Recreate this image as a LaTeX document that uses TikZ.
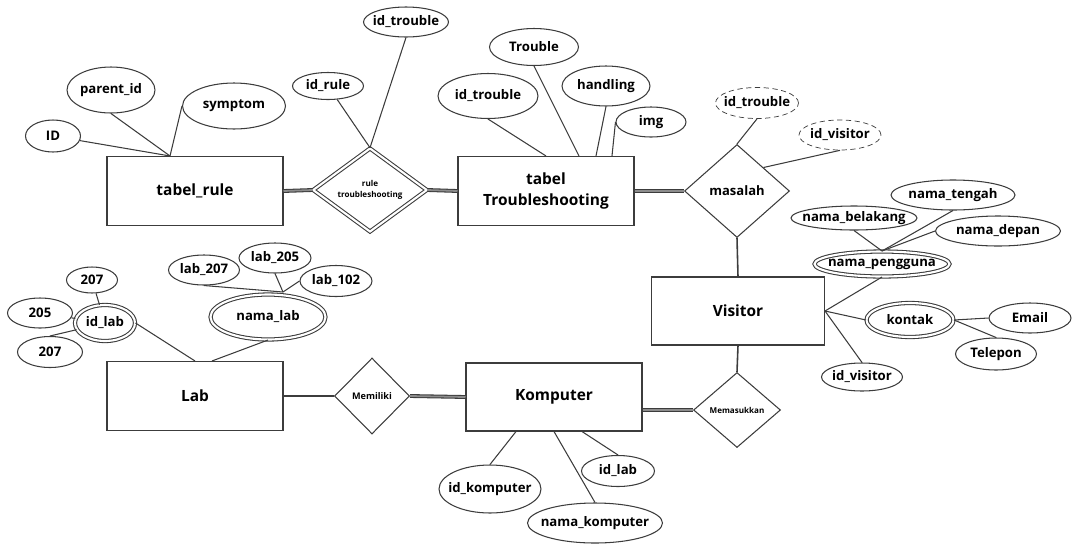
\documentclass[tikz,border=0pt]{standalone}
\usepackage{fontspec}
\setmainfont{Open Sans}
\usetikzlibrary{shapes.geometric,calc}
\definecolor{erline}{RGB}{60,60,60}

\begin{document}
\begin{tikzpicture}[x=0.02cm,y=-0.02cm,
    line width=0.6pt, draw=erline,
    entitas/.style={rectangle, draw=erline, minimum width=3.52cm, minimum height=1.38cm,
      font=\bfseries\fontsize{8.8}{12}\selectfont, align=center},
    atribut/.style 2 args={ellipse, draw=erline, inner xsep=-1em, inner ysep=0pt,
      minimum width=#1, minimum height=#2, font=\bfseries\fontsize{7.5}{9}\selectfont},
    relasi/.style={diamond, draw=erline, inner sep=0pt, align=center},
    ganda/.style={double=white, double distance=1.2pt},
    gandagaris/.style={double=black!45, double distance=1pt},
    putus/.style={densely dashed, line width=0.4pt}]
  \useasboundingbox (0,0) rectangle (1075,545);

  % entitas
  \node[entitas] (rule) at (195,191) {tabel\_rule};
  \node[entitas] (trouble) at (546,191) {tabel\\Troubleshooting};
  \node[entitas, minimum width=3.46cm, minimum height=1.36cm] (visitor) at (738,311) {Visitor};
  \node[entitas] (lab) at (195,396) {Lab};
  \node[entitas, minimum height=1.36cm] (komputer) at (554,397) {Komputer};

  % relasi
  \node[relasi, ganda, minimum width=2.28cm, minimum height=1.62cm,
    font=\bfseries\fontsize{4.6}{6}\selectfont] (ruletr) at (370,190) {rule\\troubleshooting};
  \node[relasi, minimum width=2.1cm, minimum height=1.86cm,
    font=\bfseries\fontsize{7.4}{9}\selectfont] (masalah) at (737,191) {masalah};
  \node[relasi, minimum width=1.5cm, minimum height=1.52cm,
    font=\bfseries\fontsize{5.2}{6}\selectfont] (memiliki) at (372,396) {Memiliki};
  \node[relasi, minimum width=1.74cm, minimum height=1.5cm,
    font=\bfseries\fontsize{4.6}{6}\selectfont] (memasukkan) at (737,410) {Memasukkan};

  % atribut tabel_rule
  \node[atribut={1.1cm}{0.64cm}] (id) at (53,136) {ID};
  \node[atribut={1.76cm}{0.92cm}] (parentid) at (111,90) {parent\_id};
  \node[atribut={2.06cm}{0.92cm}] (symptom) at (234,106) {symptom};
  \node[atribut={1.42cm}{0.54cm}] (idrule) at (328,86) {id\_rule};
  \node[atribut={1.7cm}{0.6cm}] (idtroubleA) at (406,22) {id\_trouble};

  % atribut tabel Troubleshooting
  \node[atribut={2.0cm}{0.9cm}] (idtroubleB) at (488,96) {id\_trouble};
  \node[atribut={1.78cm}{0.74cm}] (troubleattr) at (534,47) {Trouble};
  \node[atribut={1.76cm}{0.8cm}] (handling) at (606,86) {handling};
  \node[atribut={1.4cm}{0.6cm}] (img) at (651,122) {img};
  \node[atribut={1.66cm}{0.62cm}, putus] (idtroubleC) at (757,103) {id\_trouble};
  \node[atribut={1.64cm}{0.6cm}, putus] (idvisitorA) at (840,135) {id\_visitor};

  % atribut Visitor
  \node[atribut={2.48cm}{0.6cm}] (namatengah) at (953,195) {nama\_tengah};
  \node[atribut={2.52cm}{0.48cm}] (namabelakang) at (854,218) {nama\_belakang};
  \node[atribut={2.5cm}{0.6cm}] (namadepan) at (998,231) {nama\_depan};
  \node[atribut={2.7cm}{0.5cm}, ganda] (namapengguna) at (882,264) {nama\_pengguna};
  \node[atribut={1.74cm}{0.68cm}, ganda] (kontak) at (910,320) {kontak};
  \node[atribut={1.64cm}{0.6cm}] (email) at (1030,318) {Email};
  \node[atribut={1.62cm}{0.64cm}] (telepon) at (996,354) {Telepon};
  \node[atribut={1.62cm}{0.56cm}] (idvisitorB) at (862,377) {id\_visitor};

  % atribut Lab
  \node[atribut={1.2cm}{0.72cm}, ganda] (idlabA) at (105,323) {id\_lab};
  \node[atribut={1.02cm}{0.52cm}] (nilaiA) at (92,280) {207};
  \node[atribut={1.3cm}{0.6cm}] (nilaiB) at (40,313) {205};
  \node[atribut={1.3cm}{0.62cm}] (nilaiC) at (50,352) {207};
  \node[atribut={2.3cm}{0.9cm}, ganda] (namalab) at (268,317) {nama\_lab};
  \node[atribut={1.42cm}{0.6cm}] (labA) at (204,270) {lab\_207};
  \node[atribut={1.44cm}{0.6cm}] (labB) at (275,258) {lab\_205};
  \node[atribut={1.44cm}{0.62cm}] (labC) at (336,281) {lab\_102};

  % atribut Komputer
  \node[atribut={2.04cm}{0.96cm}] (idkomputer) at (490,489) {id\_komputer};
  \node[atribut={2.7cm}{0.8cm}] (namakomputer) at (595,523) {nama\_komputer};
  \node[atribut={1.46cm}{0.62cm}] (idlabB) at (618,471) {id\_lab};

  % titik temu
  \coordinate (rulejoin) at ([xshift=-0.5cm]rule.north);
  \coordinate (labjoin) at (283,292);

  % garis
  \draw (id) -- (rulejoin);
  \draw (parentid.south) -- (rulejoin);
  \draw (symptom.west) -- (rulejoin);
  \draw (idrule) -- (ruletr.north);
  \draw (idtroubleA.south) -- (ruletr.north);
  \draw[gandagaris] (rule.east) -- (ruletr.west);
  \draw[gandagaris] (ruletr.east) -- (trouble.west);

  \draw (idtroubleB.south) -- (trouble.north);
  \draw (troubleattr.south) -- ([xshift=0.66cm]trouble.north);
  \draw (handling.south) -- ([xshift=1cm]trouble.north);
  \draw (img.west) -- ([xshift=1.32cm]trouble.north);
  \draw[gandagaris] (trouble.east) -- (masalah.west);
  \draw (idtroubleC.south) -- (masalah.north);
  \draw (idvisitorA.south) -- (masalah.north east);
  \draw[line width=0.9pt] (masalah.south) -- (visitor.north);

  \draw (namabelakang.south) -- (namapengguna.north);
  \draw (namatengah.south) -- (namapengguna.north);
  \draw (namadepan.west) -- (namapengguna.north);
  \draw (namapengguna.south) -- (visitor.east);
  \draw (kontak.west) -- (visitor.east);
  \draw (idvisitorB.north) -- (visitor.east);
  \draw (kontak.east) -- (email.west);
  \draw (kontak.east) -- (telepon.north);
  \draw[line width=0.9pt] (visitor.south) -- (memasukkan.north);

  \draw (nilaiA) -- (idlabA);
  \draw (nilaiB) -- (idlabA);
  \draw (nilaiC.north) -- (idlabA);
  \draw (idlabA.east) -- (lab.north);
  \draw (labA.south) -- (labjoin);
  \draw (labB.south) -- (labjoin);
  \draw (labC.west) -- (labjoin);
  \draw (namalab.south) -- ([xshift=0.34cm]lab.north);

  \draw[line width=0.9pt] (lab.east) -- (memiliki.west);
  \draw[gandagaris] (memiliki.east) -- (komputer.west);
  \draw[gandagaris] (memasukkan.west -| komputer.east) -- (memasukkan.west);
  \draw (idkomputer.north) -- ([xshift=-0.76cm]komputer.south);
  \draw (namakomputer.north) -- (komputer.south);
  \draw (idlabB.north) -- ([xshift=0.56cm]komputer.south);
\end{tikzpicture}
\end{document}
